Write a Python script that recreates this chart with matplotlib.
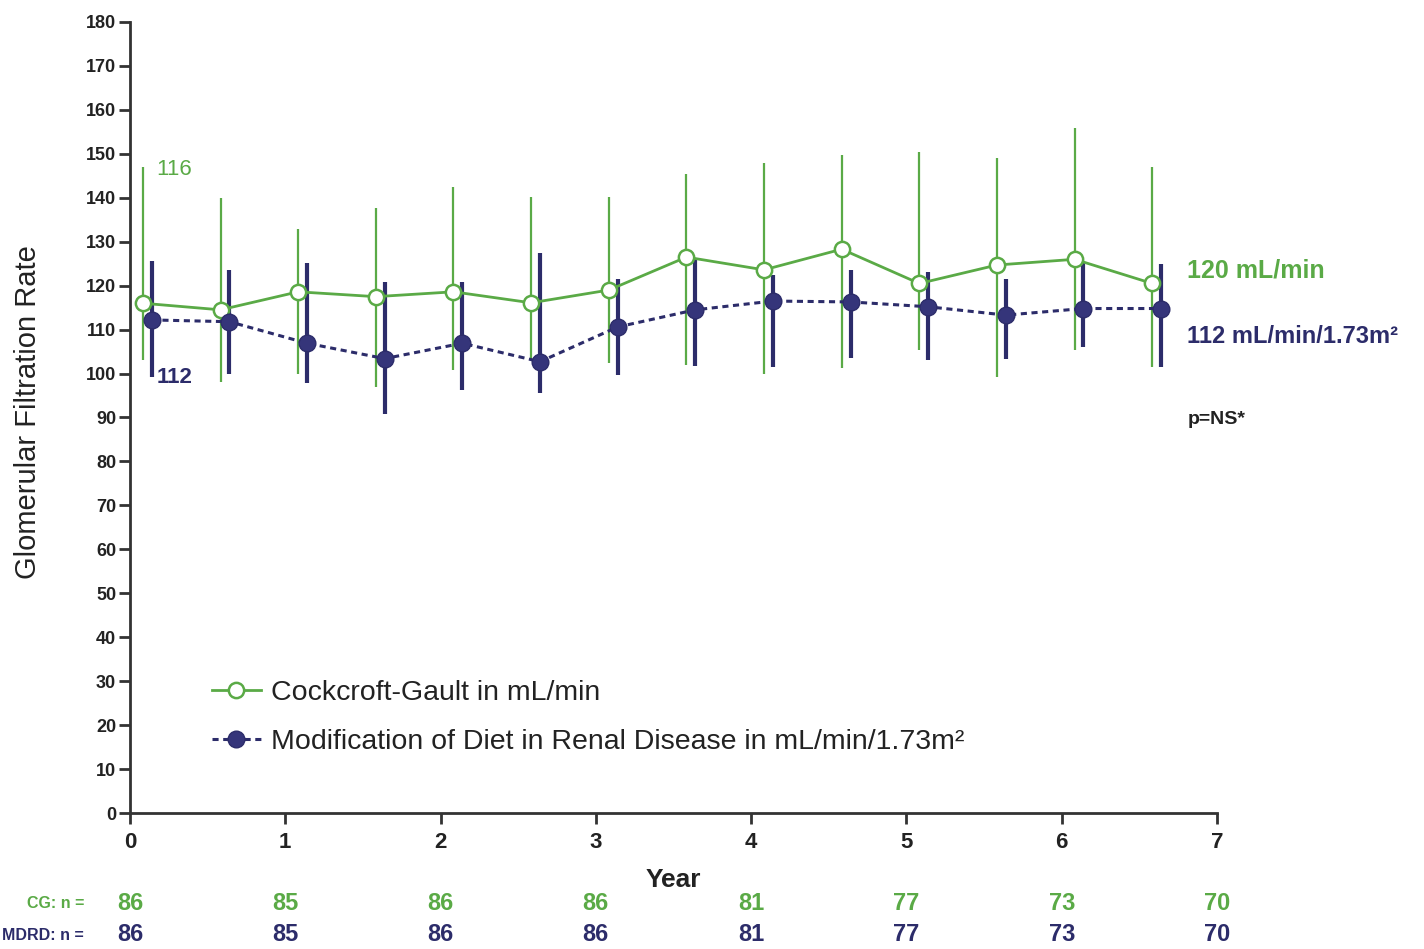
import matplotlib
matplotlib.use("Agg")
import matplotlib.pyplot as plt
from matplotlib.lines import Line2D

plt.rcParams['font.family'] = ['Liberation Sans', 'DejaVu Sans']

# ---- data ----
cg_years = [0.083, 0.583, 1.083, 1.583, 2.083, 2.583, 3.083, 3.583, 4.083, 4.583, 5.083, 5.583, 6.083, 6.583]
mdrd_years = [0.14, 0.64, 1.14, 1.64, 2.14, 2.64, 3.14, 3.64, 4.14, 4.64, 5.14, 5.64, 6.14, 6.64]
cg_mean = [116, 114.5, 118.6, 117.5, 118.6, 116.1, 119, 126.5, 123.6, 128.3, 120.5, 124.7, 126, 120.5]
cg_upper = [147, 140, 133, 137.6, 142.5, 140.2, 140.2, 145.5, 147.9, 149.8, 150.5, 149, 155.8, 147]
cg_lower = [103, 98, 100, 97, 100.8, 103, 102.3, 102, 100, 101.2, 105.4, 99.3, 105.4, 101.5]
mdrd_mean = [112.2, 111.8, 106.9, 103.4, 106.9, 102.7, 110.6, 114.5, 116.5, 116.3, 115.2, 113.3, 114.8, 114.8]
mdrd_upper = [125.5, 123.6, 125.1, 120.9, 120.9, 127.4, 121.6, 126, 122.4, 123.6, 123.2, 121.6, 125.1, 125]
mdrd_lower = [99.3, 100, 97.8, 90.9, 96.3, 95.5, 99.7, 101.7, 101.5, 103.5, 103.1, 103.4, 106.1, 101.5]

n_years = [0, 1, 2, 3, 4, 5, 6, 7]
cg_n = [86, 85, 86, 86, 81, 77, 73, 70]
mdrd_n = [86, 85, 86, 86, 81, 77, 73, 70]

y_ticks = list(range(0, 181, 10))
x_ticks = list(range(0, 8))

GREEN = '#5aaa46'
NAVY = '#2c2c6a'
AXC = '#333333'

fig = plt.figure(figsize=(14.24, 9.49), dpi=100)
ax = fig.add_axes([130/1424, 1 - 813/949, (1217-130)/1424, (813-22)/949])

cg_err = [[m - l for m, l in zip(cg_mean, cg_lower)], [u - m for m, u in zip(cg_mean, cg_upper)]]
md_err = [[m - l for m, l in zip(mdrd_mean, mdrd_lower)], [u - m for m, u in zip(mdrd_mean, mdrd_upper)]]

ax.errorbar(cg_years, cg_mean, yerr=cg_err, fmt='none', ecolor=GREEN, elinewidth=1.6, capsize=0, zorder=2)
ax.errorbar(mdrd_years, mdrd_mean, yerr=md_err, fmt='none', ecolor=NAVY, elinewidth=3.0, capsize=0, zorder=3)
ax.plot(cg_years, cg_mean, color=GREEN, lw=2.0, marker='o', ms=11, mfc='white', mec=GREEN, mew=1.8, zorder=4)
ax.plot(mdrd_years, mdrd_mean, color=NAVY, lw=2.2, ls=(0, (2, 1.5)), marker='o', ms=12, mfc='#35357a', mec=NAVY, zorder=5)

ax.set_xlim(0, 7)
ax.set_ylim(0, 180)
ax.set_yticks(y_ticks)
ax.set_xticks(x_ticks)
for s in ['top', 'right']:
    ax.spines[s].set_visible(False)
for s in ['left', 'bottom']:
    ax.spines[s].set_color(AXC)
    ax.spines[s].set_linewidth(2)
ax.tick_params(axis='y', direction='out', length=8, width=2, color=AXC, labelsize=13, pad=2, labelcolor='#222222')
ax.tick_params(axis='x', direction='out', length=8, width=2, color=AXC, labelsize=16, pad=6, labelcolor='#222222')
for lab in ax.get_yticklabels() + ax.get_xticklabels():
    lab.set_fontweight('bold')

# axis labels
fig.text(28/1424, 1 - 412/949, 'Glomerular Filtration Rate', rotation=90, ha='center', va='center',
         fontsize=21, color='#222222')
ax.text(3.5, -0.085, 'Year', transform=ax.get_xaxis_transform(), ha='center', va='center',
        fontsize=19, fontweight='bold', color='#222222')

# annotations
ax.text(0.17, 146.5, '116', color=GREEN, fontsize=16, ha='left', va='center')
ax.text(0.17, 99, '112', color=NAVY, fontsize=16, fontweight='bold', ha='left', va='center')
ax.text(6.81, 123.5, '120 mL/min', color=GREEN, fontsize=18, fontweight='bold', ha='left', va='center', clip_on=False)
ax.text(6.81, 108.5, '112 mL/min/1.73m²', color=NAVY, fontsize=17, fontweight='bold', ha='left', va='center', clip_on=False)
ax.text(6.81, 89.5, 'p=NS*', color='#222222', fontsize=14, fontweight='bold', ha='left', va='center', clip_on=False)

# n at risk rows
for x, a, b in zip(n_years, cg_n, mdrd_n):
    ax.text(x, -0.114, str(a), transform=ax.get_xaxis_transform(), ha='center', va='center',
            fontsize=17, fontweight='bold', color=GREEN, clip_on=False)
    ax.text(x, -0.154, str(b), transform=ax.get_xaxis_transform(), ha='center', va='center',
            fontsize=17, fontweight='bold', color=NAVY, clip_on=False)
fig.text(84/1424, 1 - 903/949, 'CG: n =', ha='right', va='center', fontsize=11.5, fontweight='bold', color=GREEN)
fig.text(84/1424, 1 - 935/949, 'MDRD: n =', ha='right', va='center', fontsize=11.5, fontweight='bold', color=NAVY)

# legend
handles = [
    Line2D([], [], color=GREEN, lw=2.0, marker='o', ms=11, mfc='white', mec=GREEN, mew=1.8),
    Line2D([], [], color=NAVY, lw=2.2, ls=(0, (2, 1.5)), marker='o', ms=12, mfc='#35357a', mec=NAVY),
]
labels = ['Cockcroft-Gault in mL/min', 'Modification of Diet in Renal Disease in mL/min/1.73m²']
ax.legend(handles, labels, loc='upper left', bbox_to_anchor=(0.075, 0.168), frameon=False,
          fontsize=20.5, handlelength=1.75, handletextpad=0.35, labelspacing=0.82,
          borderaxespad=0, borderpad=0, labelcolor='#222222')

fig.savefig('out.png', dpi=100, facecolor='white')
